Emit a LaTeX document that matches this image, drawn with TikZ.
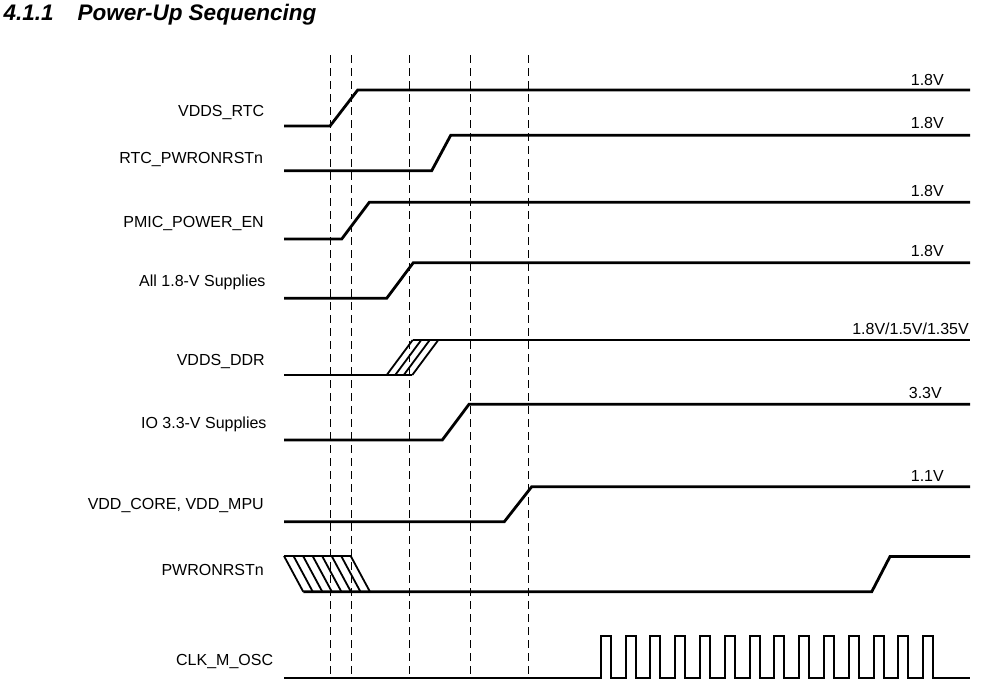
\documentclass[tikz,border=0pt]{standalone}
\usepackage{fontspec}
\setmainfont{Liberation Sans}
\begin{document}
\begin{tikzpicture}[x=1pt,y=-1pt,
  sig/.style={line width=2.8pt},
  hatch/.style={line width=1.8pt},
  clk/.style={line width=2pt},
  guide/.style={line width=1pt, dash pattern=on 8pt off 5pt},
  lbl/.style={inner sep=0pt, anchor=base east, font=\fontsize{16}{19}\selectfont},
  vlt/.style={inner sep=0pt, anchor=base east, font=\fontsize{16}{19}\selectfont},
  ttl/.style={inner sep=0pt, anchor=base west, font=\fontsize{22.5}{26}\selectfont\bfseries\itshape}]
\useasboundingbox (0,0) rectangle (982,680);
% title
\node[ttl] (tnum) at (3.3,20.5) {4.1.1};
\node[ttl] (ttext) at (77.3,20.5) {Power-Up Sequencing};
% guide lines
\foreach \gx [count=\i] in {330,351.7,409.7,470.7,528.3}
  \draw[guide] (\gx,55) -- (\gx,678);
% signal names
\node[lbl] (n1) at (264.3,116) {VDDS\_RTC};
\node[lbl] (n2) at (263.3,163.3) {RTC\_PWRONRSTn};
\node[lbl] (n3) at (264,227.7) {PMIC\_POWER\_EN};
\node[lbl] (n4) at (265.7,286) {All 1.8-V Supplies};
\node[lbl] (n5) at (265,365.7) {VDDS\_DDR};
\node[lbl] (n6) at (266.7,428) {IO 3.3-V Supplies};
\node[lbl] (n7) at (264,509.5) {VDD\_CORE, VDD\_MPU};
\node[lbl] (n8) at (264,575) {PWRONRSTn};
\node[lbl] (n9) at (273.3,665) {CLK\_M\_OSC};
% voltage labels
\node[vlt] (v1) at (944,85.7) {1.8V};
\node[vlt] (v2) at (944,128.8) {1.8V};
\node[vlt] (v3) at (944,196) {1.8V};
\node[vlt] (v4) at (944,256) {1.8V};
\node[vlt] (v5) at (969,334.3) {1.8V/1.5V/1.35V};
\node[vlt] (v6) at (942,398.3) {3.3V};
\node[vlt] (v7) at (944,481) {1.1V};
% waveforms
\draw[sig] (284,126) -- (330,126) -- (357.7,90) -- (970,90);
\draw[sig] (284,170.7) -- (431.7,170.7) -- (450.7,135.3) -- (970,135.3);
\draw[sig] (284,239) -- (341.7,239) -- (369.3,202.3) -- (970,202.3);
\draw[sig] (284,298.3) -- (386.7,298.3) -- (413.3,262.7) -- (970,262.7);
% VDDS_DDR with hatched ramp
\draw[sig] (284,375) -- (412.3,375);
\draw[sig] (412.7,340) -- (970,340);
\foreach \k in {0,...,3}
  \draw[hatch] ({386.7+8.53*\k},375) -- ({412.7+8.53*\k},340);
\draw[sig] (284,440) -- (442.3,440) -- (469,404.3) -- (970,404.3);
\draw[sig] (284,521.7) -- (504.3,521.7) -- (531.7,486.7) -- (970,486.7);
% PWRONRSTn with hatched region
\foreach \k in {0,...,7}
  \draw[hatch] ({284+9.53*\k},556) -- ({303.3+9.53*\k},591.8);
\draw[sig] (284,556) -- (350.7,556);
\draw[sig] (303.3,591.8) -- (871.7,591.8) -- (890,556.5) -- (970,556.5);
% clock
\draw[clk] (284,678) -- (600.7,678)
  \foreach \k in {0,...,13} {
    -- ({600.7+24.8*\k},678) -- ({600.7+24.8*\k},636)
    -- ({610.7+24.8*\k},636) -- ({610.7+24.8*\k},678)}
  -- (970,678);
\end{tikzpicture}
\end{document}
